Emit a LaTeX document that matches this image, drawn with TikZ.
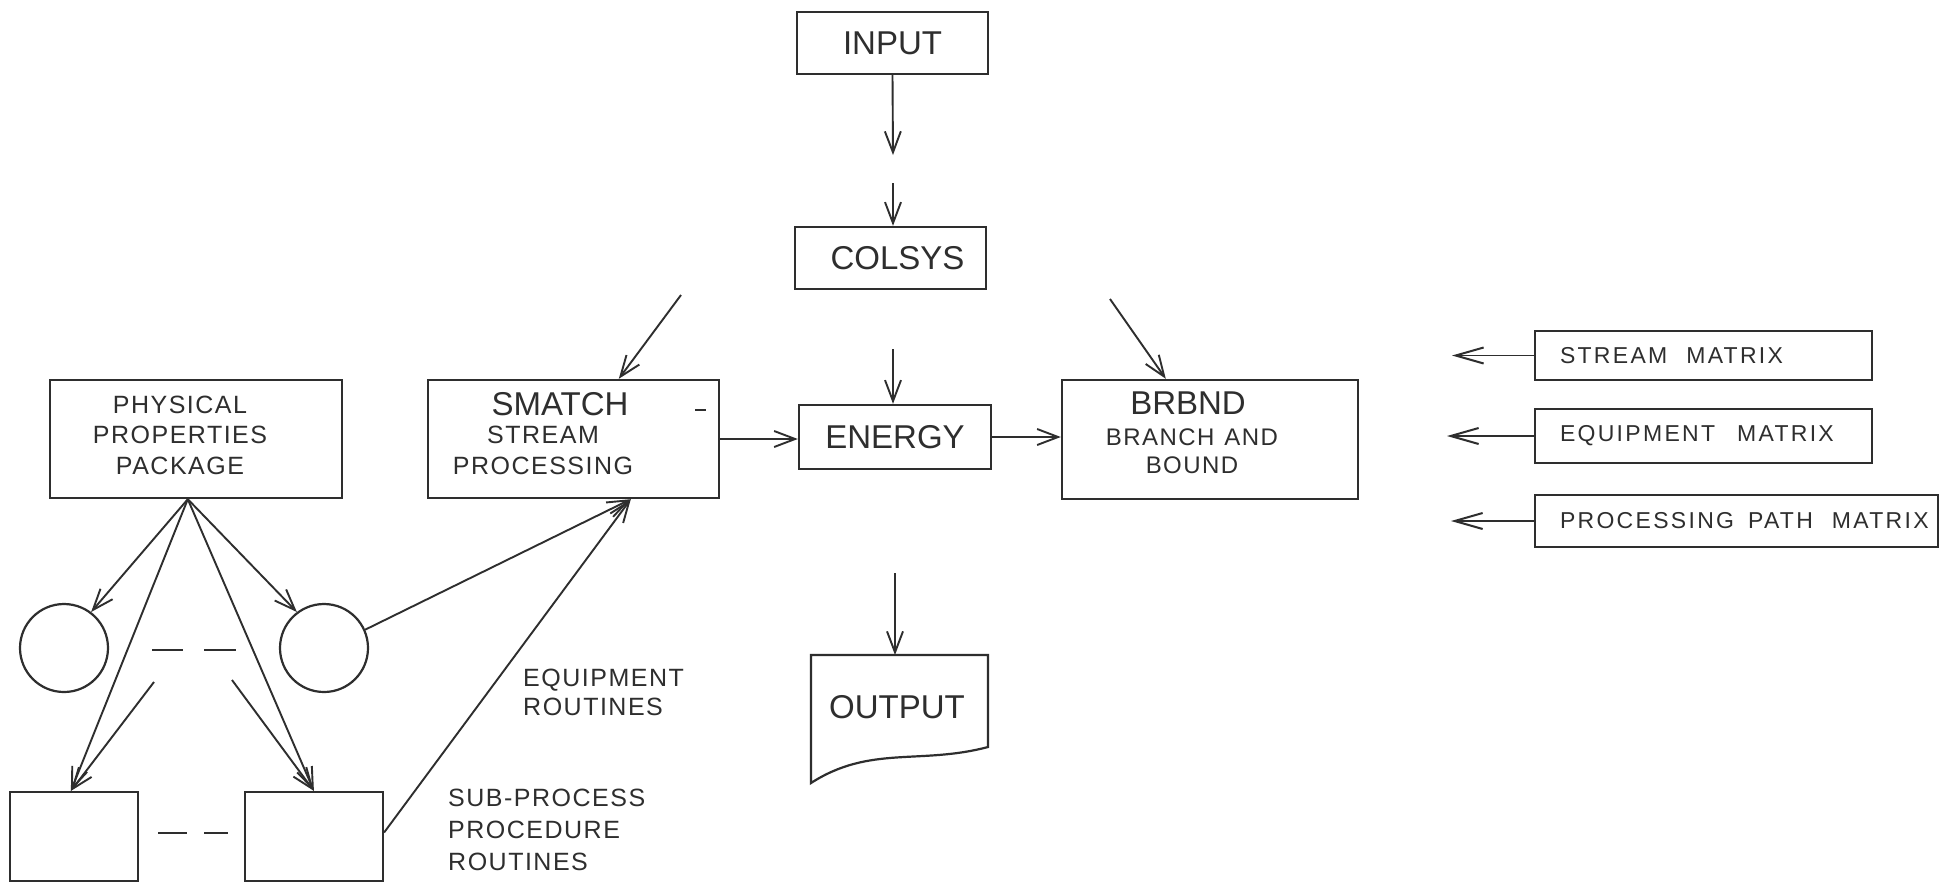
\documentclass[tikz,border=0pt]{standalone}
\usepackage{fontspec}
\usetikzlibrary{arrows.meta,calc}
\newfontfamily\lsfont{Liberation Sans}
\newfontfamily\lsspace[LetterSpace=6]{Liberation Sans}
\newfontfamily\lsmat[LetterSpace=10]{Liberation Sans}
\definecolor{ink}{HTML}{2E2E2E}
\tikzset{
  line/.style={draw=ink, line width=1.9pt},
  arr/.style={line, -{Straight Barb[length=21pt,width=16pt,line width=1.9pt]}},
  longarr/.style={line, -{Straight Barb[length=28pt,width=16pt,line width=2pt]}},
  box/.style={draw=ink, line width=2.4pt, rectangle, inner sep=0pt, anchor=center},
  bigbox/.style={box, text=ink, font={\lsfont\fontsize{33}{36}\selectfont}},
  bigtxt/.style={text=ink, inner sep=0pt, font={\lsfont\fontsize{33}{36}\selectfont}},
  smtxt/.style={text=ink, inner sep=0pt, align=center},
  matbox/.style={box, text=ink, inner xsep=25pt, inner ysep=0pt,
    font={\lsmat\fontsize{23}{26}\selectfont}},
  ring/.style={circle, draw=ink, line width=2.2pt, minimum size=88pt, inner sep=0pt},
}
\begin{document}
\begin{tikzpicture}[x=1pt,y=-1pt]
\fill[white] (0,0) rectangle (1941,887);
\useasboundingbox (0,0) rectangle (1941,887);

% central column
\node[bigbox, minimum width=191pt, minimum height=62pt] (input) at (892.5,43) {INPUT};
\node[bigbox, minimum width=191pt, minimum height=62pt] (colsys) at (890.5,258) {\hspace*{14pt}COLSYS};
\node[bigbox, minimum width=192pt, minimum height=64pt] (energy) at (895,437) {ENERGY};

\coordinate (a1) at (893,155);
\coordinate (a2) at (893,183);
\coordinate (a3) at (893,349);
\coordinate (a4) at (895,573);
\coordinate (outtop) at (895,655);
\draw[arr] (input.south) -- (a1);
\draw[arr] (a2) -- (a2 |- colsys.north);
\draw[arr] (a3) -- (a3 |- energy.north);

% output document
\node[bigtxt] (output) at (897,707) {OUTPUT};
\draw[line, line width=2.2pt] (811,655) -- (988,655) -- (988,747)
  .. controls (920,765) and (870,745) .. (811,783) -- cycle;
\draw[arr] (a4) -- (outtop);

% SMATCH
\node[box, minimum width=291pt, minimum height=118pt] (smatch) at (573.5,439) {};
\node[bigtxt] (smt) at (560,404) {SMATCH};
\node[smtxt, font={\lsspace\fontsize{25}{31}\selectfont}] (smsub) at (543,450.5) {STREAM\\PROCESSING};
\draw[line, line width=1.5pt] (695,410) -- (706,410);

% BRBND
\node[box, minimum width=296pt, minimum height=119pt] (brbnd) at (1210,439.5) {};
\node[bigtxt] (brt) at (1188,403) {BRBND};
\node[smtxt, font={\lsspace\fontsize{24}{28}\selectfont}] (brsub) at (1192,451) {BRANCH\hspace{10pt}AND\\BOUND};

\draw[arr] (smatch.east) -- (smatch.east -| energy.west);
\draw[arr] (energy.east) -- (energy.east -| brbnd.west);

\coordinate (sin) at (681,295);
\coordinate (bin) at (1110,299);
\draw[arr] (sin) -- ([xshift=192pt]smatch.north west);
\draw[arr] (bin) -- ([xshift=105pt]brbnd.north west);

% physical properties
\node[box, minimum width=292pt, minimum height=118pt] (phys) at (196,439) {};
\node[smtxt, font={\lsspace\fontsize{25}{30.5}\selectfont}] (physt) at (180,435) {PHYSICAL\\PROPERTIES\\PACKAGE};

\node[ring] (lc) at (64,648) {};
\node[ring] (rc) at (324,648) {};
\node[box, line width=2.2pt, minimum width=128pt, minimum height=89pt] (lsq) at (74,836.5) {};
\node[box, line width=2.2pt, minimum width=138pt, minimum height=89pt] (rsq) at (314,836.5) {};

\coordinate (po) at ([xshift=139pt]phys.south west);
\coordinate (sl) at (154,682);
\coordinate (sr) at (232,680);
\draw[arr] (po) -- (lc.53);
\draw[arr] (po) -- (rc.127);
\draw[arr] (po) -- ([xshift=62pt]lsq.north west);
\draw[arr] (po) -- ([xshift=70pt]rsq.north west);
\draw[arr] (sl) -- ([xshift=62pt]lsq.north west);
\draw[arr] (sr) -- ([xshift=70pt]rsq.north west);
\draw[arr] (rc.24) -- ([xshift=204pt]smatch.south west);
\draw[arr] ([yshift=4pt]rsq.east) -- ([xshift=204pt]smatch.south west);

\draw[line] (152,650) -- (183,650);
\draw[line] (204,650) -- (236,650);
\draw[line] (158,833) -- (187,833);
\draw[line] (204,833) -- (228,833);

\node[smtxt, align=left, anchor=west, font={\lsspace\fontsize{25}{29}\selectfont}] (eqr) at (523,692.5) {EQUIPMENT\\ROUTINES};
\node[smtxt, align=left, anchor=west, font={\lsspace\fontsize{25}{32}\selectfont}] (spr) at (448,830) {SUB-PROCESS\\PROCEDURE\\ROUTINES};

% matrices
\node[matbox, minimum height=49pt] (sm) at (1703.5,355.5) {\makebox[287pt][l]{STREAM\hspace{19pt}MATRIX}};
\node[matbox, minimum height=54pt] (em) at (1703.5,436) {\makebox[287pt][l]{EQUIPMENT\hspace{22pt}MATRIX}};
\node[matbox, minimum height=52pt] (pm) at (1736.5,521) {\makebox[353pt][l]{PROCESSING\hspace{14pt}PATH\hspace{19pt}MATRIX}};
\coordinate (smt2) at (1452,355.5);
\coordinate (emt) at (1447,436);
\coordinate (pmt) at (1451,521);
\draw[longarr] (sm.west) -- (smt2);
\draw[longarr] (em.west) -- (emt);
\draw[longarr] (pm.west) -- (pmt);
\end{tikzpicture}
\end{document}
